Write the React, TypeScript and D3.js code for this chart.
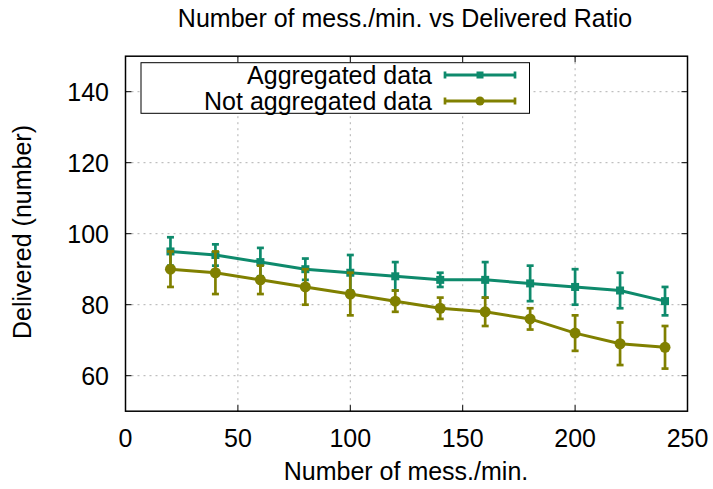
import React from "react";
import * as d3 from "d3";

const xValues = [20, 40, 60, 80, 100, 120, 140, 160, 180, 200, 220, 240];
const aggValues = [95, 94, 92, 90, 89, 88, 87, 87, 86, 85, 84, 81];
const aggLow = [91, 91, 88, 87, 84, 84, 85, 82, 81, 80, 79, 77];
const aggHigh = [99, 97, 96, 93, 94, 92, 89, 92, 91, 90, 89, 85];
const notAggValues = [90, 89, 87, 85, 83, 81, 79, 78, 76, 72, 69, 68];
const notAggLow = [85, 83, 83, 80, 77, 78, 76, 74, 73, 67, 63, 62];
const notAggHigh = [95, 95, 91, 90, 89, 84, 82, 82, 79, 77, 75, 74];
const xTicks = [0, 50, 100, 150, 200, 250];
const yTicks = [60, 80, 100, 120, 140];
const seriesNames = ["Aggregated data", "Not aggregated data"];

const W = 713;
const H = 489;
const L = 125.5, R = 687.5, T = 56.2, B = 411.2;
const TEAL = "#0e8a6c";
const OLIVE = "#808000";
const FONT = "Liberation Sans, Arial, sans-serif";
const FS = 25;

export default function App() {
  const x = d3.scaleLinear().domain([0, 250]).range([L, R]);
  const y = d3.scaleLinear().domain([50, 150]).range([B, T]);
  const line = d3.line<number>().x((_, i) => x(xValues[i])).y((v) => y(v));

  const series = [
    { name: seriesNames[0], vals: aggValues, lo: aggLow, hi: aggHigh, color: TEAL, marker: "square" },
    { name: seriesNames[1], vals: notAggValues, lo: notAggLow, hi: notAggHigh, color: OLIVE, marker: "circle" },
  ];

  const cap = 3.5;
  const tickLen = 6;

  return (
    <svg width={W} height={H} style={{ position: "absolute", left: 0, top: 0 }} fontFamily={FONT}>
      <rect x={0} y={0} width={W} height={H} fill="white" />
      {xTicks.filter((t) => t > 0 && t < 250).map((t) => (
        <line key={"gx" + t} x1={x(t)} x2={x(t)} y1={T} y2={B} stroke="#b0b0b0" strokeWidth={1} strokeDasharray="2,4" />
      ))}
      {yTicks.map((t) => (
        <line key={"gy" + t} x1={L} x2={R} y1={y(t)} y2={y(t)} stroke="#b0b0b0" strokeWidth={1} strokeDasharray="2,4" />
      ))}
      {xTicks.map((t) => (
        <g key={"tx" + t}>
          <line x1={x(t)} x2={x(t)} y1={B} y2={B - tickLen} stroke="#000" strokeWidth={1} />
          <line x1={x(t)} x2={x(t)} y1={T} y2={T + tickLen} stroke="#000" strokeWidth={1} />
          <text x={x(t)} y={447} textAnchor="middle" fontSize={FS} fill="#000">{t}</text>
        </g>
      ))}
      {yTicks.map((t) => (
        <g key={"ty" + t}>
          <line x1={L} x2={L + tickLen} y1={y(t)} y2={y(t)} stroke="#000" strokeWidth={1} />
          <line x1={R} x2={R - tickLen} y1={y(t)} y2={y(t)} stroke="#000" strokeWidth={1} />
          <text x={109} y={y(t) + 9} textAnchor="end" fontSize={FS} fill="#000">{t}</text>
        </g>
      ))}
      {series.map((s) => (
        <g key={s.name}>
          <path d={line(s.vals) || ""} fill="none" stroke={s.color} strokeWidth={3} />
          {s.vals.map((v, i) => (
            <g key={i}>
              <line x1={x(xValues[i])} x2={x(xValues[i])} y1={y(s.lo[i])} y2={y(s.hi[i])} stroke={s.color} strokeWidth={2.7} />
              <line x1={x(xValues[i]) - cap} x2={x(xValues[i]) + cap} y1={y(s.lo[i])} y2={y(s.lo[i])} stroke={s.color} strokeWidth={2.7} />
              <line x1={x(xValues[i]) - cap} x2={x(xValues[i]) + cap} y1={y(s.hi[i])} y2={y(s.hi[i])} stroke={s.color} strokeWidth={2.7} />
              {s.marker === "square" ? (
                <rect x={x(xValues[i]) - 4} y={y(v) - 4} width={8} height={8} fill={s.color} />
              ) : (
                <circle cx={x(xValues[i])} cy={y(v)} r={5.5} fill={s.color} />
              )}
            </g>
          ))}
        </g>
      ))}
      <rect x={L} y={T} width={R - L} height={B - T} fill="none" stroke="#000" strokeWidth={1.5} />
      <rect x={141} y={62.7} width={388.5} height={50.6} fill="white" stroke="#000" strokeWidth={1} />
      {series.map((s, i) => {
        const ly = 75 + i * 26;
        return (
          <g key={"leg" + i}>
            <text x={432} y={ly + 9} textAnchor="end" fontSize={FS} fill="#000">{s.name}</text>
            <line x1={445} x2={515} y1={ly} y2={ly} stroke={s.color} strokeWidth={3} />
            <line x1={445} x2={445} y1={ly - cap} y2={ly + cap} stroke={s.color} strokeWidth={2.7} />
            <line x1={515} x2={515} y1={ly - cap} y2={ly + cap} stroke={s.color} strokeWidth={2.7} />
            {s.marker === "square" ? (
              <rect x={480 - 3.5} y={ly - 3.5} width={7} height={7} fill={s.color} />
            ) : (
              <circle cx={480} cy={ly} r={4.5} fill={s.color} />
            )}
          </g>
        );
      })}
      <text x={405} y={27} textAnchor="middle" fontSize={FS} fill="#000">Number of mess./min. vs Delivered Ratio</text>
      <text x={406} y={480} textAnchor="middle" fontSize={FS} fill="#000">Number of mess./min.</text>
      <text transform={`translate(31,232) rotate(-90)`} textAnchor="middle" fontSize={FS} fill="#000">Delivered (number)</text>
    </svg>
  );
}
